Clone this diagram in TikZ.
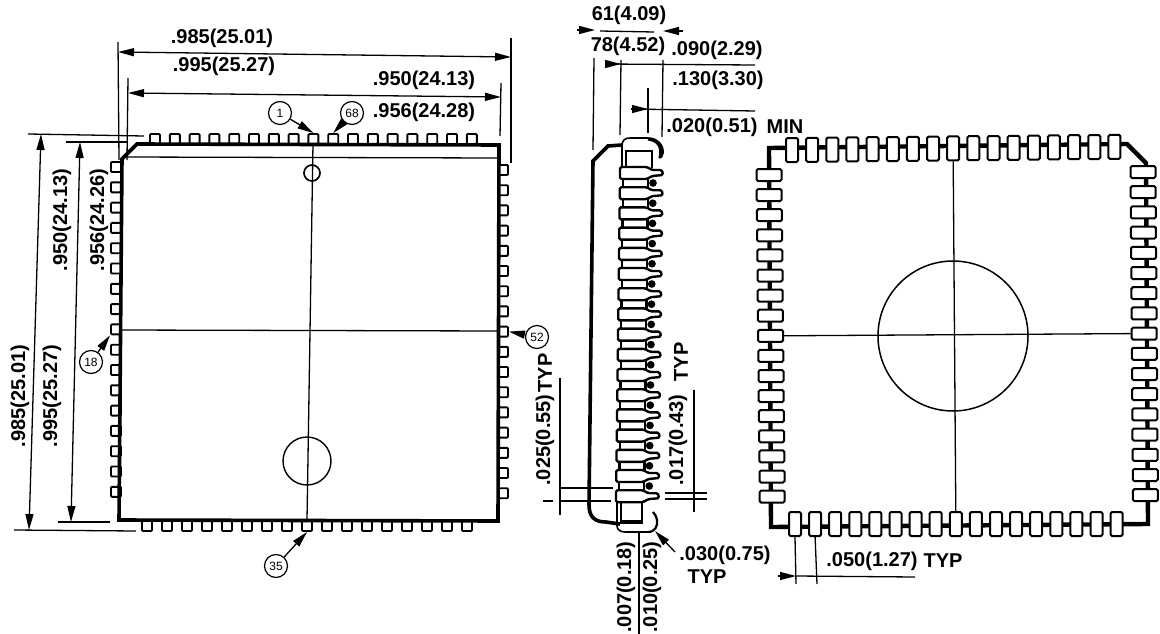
\documentclass[tikz,border=0pt]{standalone}
\usepackage{fontspec}
\setmainfont{Liberation Sans}
\usetikzlibrary{arrows.meta}
\usetikzlibrary{positioning}
\tikzset{>={Triangle[length=16pt,width=8pt]},
         dimline/.style = {line width=1.3pt},
         outline/.style = {line width=3.6pt},
         dimtext/.style = {font=\fontsize{20}{20}\bfseries\selectfont, inner sep=0pt},
         pin/.style = {draw, fill=white, line width=1.9pt, rounded corners=1pt,
                       minimum width=10pt, minimum height=10pt, inner sep=0pt},
         padh/.style = {draw, fill=white, line width=2pt, rounded corners=1.5pt,
                        minimum width=25pt, minimum height=12pt, inner sep=0pt},
         padv/.style = {draw, fill=white, line width=2pt, rounded corners=1.5pt,
                        minimum width=12pt, minimum height=24pt, inner sep=0pt},
         callout/.style = {draw, circle, fill=white, line width=1.2pt, minimum size=23pt, inner sep=0pt,
                           font=\fontsize{12}{12}\selectfont}}

\begin{document}
\begin{tikzpicture}[x=1pt, y=-1pt]
      \useasboundingbox (0, 0) rectangle (1160, 634);

      % package seen from above
      \foreach \i in {0,...,16} {
        \pgfmathsetmacro\px{155 + 19.8 * \i};
        \pgfmathsetmacro\qx{147 + 20 * \i};
        \pgfmathsetmacro\ly{167 + 20.3 * \i};
        \pgfmathsetmacro\ry{170 + 20.2 * \i};
        \node [pin] (ptop\i) at (\px, 139) {};
        \node [pin] (pbot\i) at (\qx, 526) {};
        \node [pin] (pleft\i) at (116, \ly) {};
        \node [pin] (pright\i) at (503, \ry) {};
      }
      \draw [outline] (137, 144) -- (499, 145) -- (498, 521) -- (119, 520) -- (122, 159) -- cycle;
      \draw [dimline] (122, 157) -- (499, 158);
      \draw [dimline] (313, 144) -- (307, 520);
      \draw [dimline] (120, 330) -- (498, 331);
      \node [draw, circle, line width=1.7pt, minimum size=16pt, inner sep=0pt] (pinmark) at (312, 173) {};
      \node [draw, circle, line width=1.4pt, minimum size=48pt, inner sep=0pt] (ejector) at (307, 461) {};

      \node [callout] (pinone) at (280, 113) {1};
      \node [callout] (pinlast) at (352, 113) {68};
      \node [callout] (pineighteen) at (91, 362) {18};
      \node [callout] (pinthirtyfive) at (276, 566) {35};
      \node [callout] (pinfiftytwo) at (537, 337) {52};
      \draw [->, dimline] (pinone) -- (ptop8.north);
      \draw [->, dimline] (pinlast) -- (ptop9.north);
      \draw [->, dimline] (pineighteen) -- (pleft8.south west);
      \draw [->, dimline] (pinthirtyfive) -- (pbot8.south);
      \draw [->, dimline] (pinfiftytwo) -- (pright8.east);

      % dimensions of the package
      \draw [dimline] (118, 42) -- (119, 160);
      \draw [dimline] (128, 78) -- (127, 160);
      \draw [dimline] (511, 38) -- (511, 163);
      \draw [dimline] (501, 83) -- (500, 136);
      \draw [<->, dimline] (118, 52) -- (511, 57);
      \draw [<->, dimline] (128, 93) -- (501, 97);
      \draw [dimline] (28, 134) -- (144, 136);
      \draw [dimline] (66, 142) -- (128, 142);
      \draw [dimline] (14, 530) -- (136, 531);
      \draw [dimline] (58, 522) -- (110, 522);
      \draw [<->, dimline] (41, 134) -- (29, 530);
      \draw [<->, dimline] (80, 142) -- (71, 522);
      \node [dimtext] (widthmin) at (222, 38) {.985(25.01)};
      \node [dimtext] (widthmax) at (224, 66) {.995(25.27)};
      \node [dimtext] (bodymin) at (424, 80) {.950(24.13)};
      \node [dimtext] (bodymax) at (424, 112) {.956(24.28)};
      \node [dimtext, rotate=90] (heightmin) at (20, 396) {.985(25.01)};
      \node [dimtext, rotate=90] (heightmax) at (52, 396) {.995(25.27)};
      \node [dimtext, rotate=90] (bodyhmin) at (62, 220) {.950(24.13)};
      \node [dimtext, rotate=90] (bodyhmax) at (99, 220) {.956(24.26)};

      % side view
      \draw [outline] (622, 145) -- (608, 146) -- (593, 161) -- (589, 505) .. controls (589, 518) and (596, 522) .. (606, 522) -- (620, 524);
      \foreach \i in {0,...,16} {
        \pgfmathsetmacro\py{173 + 20.2 * \i};
        \pgfmathsetmacro\lx{622 - 0.25 * \i};
        \ifnum\i<16
          \draw [line width=2.4pt, fill=white] (\lx+1, \py+5) rectangle (\lx+26, \py+15);
          \draw [line width=3.4pt, fill=white] (\lx+31, \py+10) circle (2);
        \fi
        \draw [line width=2.4pt, fill=white, rounded corners=1.5pt] (\lx-2, \py-6) -- (\lx+25, \py-6) -- (\lx+30, \py-3) -- (\lx+40, \py-3) -- (\lx+41, \py+2) -- (\lx+30, \py+3) -- (\lx+25, \py+6) -- (\lx-2, \py+6) -- cycle;
      }
      \draw [line width=2.4pt] (626, 168) -- (626, 151) -- (652, 151) -- (652, 168);
      \draw [line width=1.6pt] (622, 167) -- (622, 146) .. controls (622, 140) and (625, 138) .. (630, 138) -- (648, 138) .. controls (658, 138) and (664, 146) .. (663, 153) .. controls (663, 156) and (661, 158) .. (659, 158);
      \draw [line width=3pt] (648, 139) .. controls (657, 140) and (663, 146) .. (660, 158);
      \draw [line width=2.2pt] (621, 503) -- (621, 524) (642, 503) -- (642, 524);
      \draw [line width=3.4pt] (621, 522) -- (642, 522);
      \draw [line width=1.6pt] (617, 502) -- (617, 526) .. controls (617, 530) and (621, 532) .. (625, 532) -- (648, 532);
      \draw [line width=2.2pt] (648, 532) .. controls (655, 532) and (658, 526) .. (657, 520) .. controls (656, 516) and (655, 514) .. (653, 512);
      \draw [<-, dimline] (655, 531) -- (675, 552);
      \draw [dimline] (639, 533) -- (639, 634);
      \node [dimtext] (radius) at (725, 555) {.030(0.75)};
      \node [dimtext] (radiustyp) at (707, 577) {TYP};
      \node [dimtext, rotate=90] (leadmin) at (626, 587) {.007(0.18)};
      \node [dimtext, rotate=90] (leadmax) at (652, 587) {.010(0.25)};

      % dimensions of the side view
      \draw [dimline] (594, 58) -- (593, 150);
      \draw [dimline] (621, 60) -- (620, 135);
      \draw [dimline] (663, 60) -- (662, 137);
      \draw [dimline] (648, 88) -- (648, 133);
      \draw [->, dimline] (577, 30) -- (595, 30);
      \draw [dimline] (600, 31) -- (654, 32);
      \draw [->, dimline] (683, 31) -- (663, 31);
      \draw [dimline] (605, 64) -- (755, 65);
      \draw [->, dimline] (605, 64) -- (621, 64);
      \draw [dimline] (631, 109) -- (755, 111);
      \draw [->, dimline] (631, 109) -- (648, 109);
      \node [dimtext] (overallmin) at (629, 15) {61(4.09)};
      \node [dimtext] (overallmax) at (628, 46) {78(4.52)};
      \node [dimtext] (seatmin) at (717, 50) {.090(2.29)};
      \node [dimtext] (seatmax) at (718, 80) {.130(3.30)};
      \node [dimtext] (standoff) at (712, 127) {.020(0.51)};
      \node [dimtext] (standoffmin) at (785, 127) {MIN};

      % pitch and width of the leads
      \draw [dimline] (560, 378) -- (560, 515);
      \draw [dimline] (560, 488) -- (613, 488);
      \draw [dimline] (560, 501) -- (611, 501);
      \draw [dimline] (543, 501) -- (553, 501);
      \draw [dimline] (694, 390) -- (694, 512);
      \draw [dimline] (665, 493) -- (707, 493);
      \draw [dimline] (665, 499) -- (707, 499);
      \node [dimtext, rotate=90] (pitchleft) at (545, 440) {.025(0.55)};
      \node [dimtext, rotate=90] (pitchlefttyp) at (545, 373) {TYP};
      \node [dimtext, rotate=90] (pitchright) at (678, 440) {.017(0.43)};
      \node [dimtext, rotate=90] (pitchrighttyp) at (681, 362) {TYP};

      % footprint
      \draw [line width=4.4pt] (769, 148) -- (1127, 144) -- (1146, 163) -- (1148, 524) -- (771, 527) -- cycle;
      \foreach \i in {0,...,16} {
        \pgfmathsetmacro\tx{792 + 20.15 * \i};
        \pgfmathsetmacro\ty{150 - 0.2 * \i};
        \pgfmathsetmacro\bx{795 + 20.1 * \i};
        \pgfmathsetmacro\lx{769 + 0.2 * \i};
        \pgfmathsetmacro\ly{175 + 20.1 * \i};
        \pgfmathsetmacro\rx{1143 + 0.15 * \i};
        \pgfmathsetmacro\ry{172 + 20.2 * \i};
        \node [padv] (padtop\i) at (\tx, \ty) {};
        \node [padv] (padbot\i) at (\bx, 524) {};
        \node [padh] (padleft\i) at (\lx, \ly) {};
        \node [padh] (padright\i) at (\rx, \ry) {};
      }
      \node [draw, circle, line width=1.5pt, minimum size=150pt, inner sep=0pt] (footcircle) at (953, 336) {};
      \draw [dimline] (padtop8.south) -- (padbot8.north);
      \draw [dimline] (padleft8.east) -- (padright8.west);
      \draw [dimline] (padbot0.south) -- (796, 584);
      \draw [dimline] (padbot1.south) -- (817, 584);
      \draw [dimline] (796, 576) -- (915, 577);
      \draw [->, dimline] (778, 576) -- (796, 576);
      \node [dimtext] (pitch) at (872, 561) {.050(1.27)};
      \node [dimtext] (pitchtyp) at (943, 561) {TYP};
    \end{tikzpicture}
\end{document}
